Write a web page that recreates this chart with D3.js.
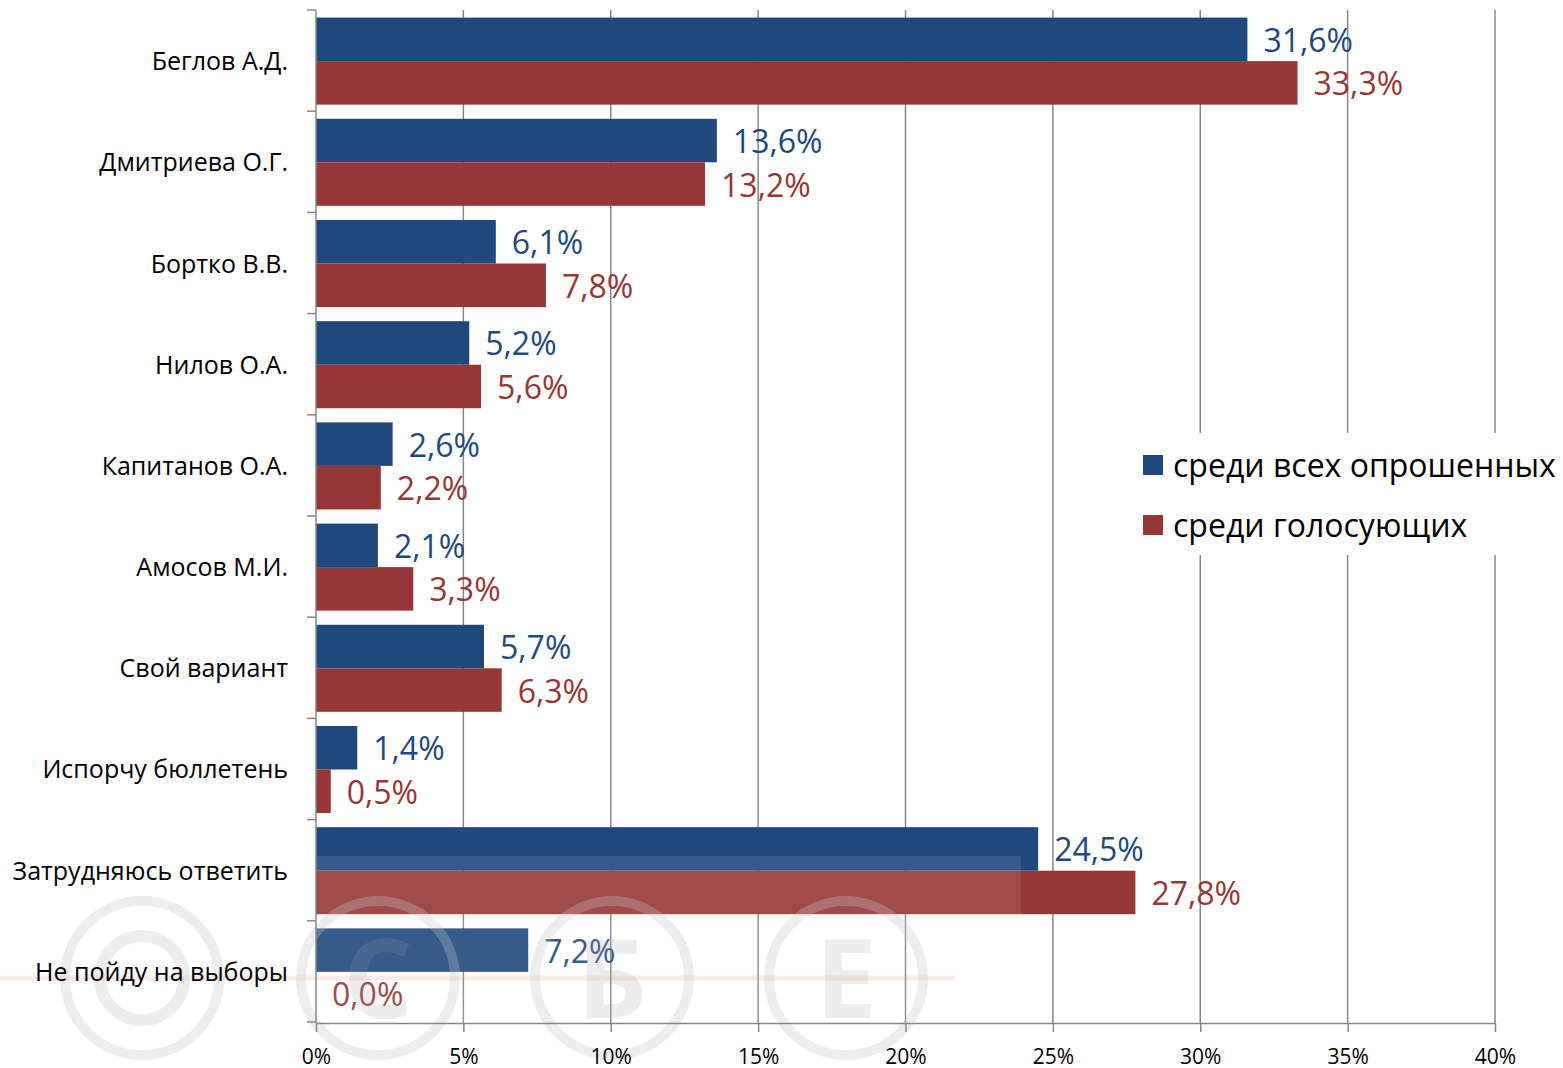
<!DOCTYPE html>
<html>
<head>
<meta charset="utf-8">
<script src="https://cdn.jsdelivr.net/npm/d3@7"></script>
<style>
  body { margin: 0; background: #fff; }
  text { font-family: "Open Sans", "Noto Sans", sans-serif; }
</style>
</head>
<body>
<div id="chart"></div>
<script>
var svgWidth = 1563;
var svgHeight = 1068;

// data
var categories = ["Беглов А.Д.", "Дмитриева О.Г.", "Бортко В.В.", "Нилов О.А.", "Капитанов О.А.",
  "Амосов М.И.", "Свой вариант", "Испорчу бюллетень", "Затрудняюсь ответить", "Не пойду на выборы"];
var seriesNames = ["среди всех опрошенных", "среди голосующих"];
var allRespondents = [31.6, 13.6, 6.1, 5.2, 2.6, 2.1, 5.7, 1.4, 24.5, 7.2];
var voters = [33.3, 13.2, 7.8, 5.6, 2.2, 3.3, 6.3, 0.5, 27.8, 0.0];
var xTicks = [0, 5, 10, 15, 20, 25, 30, 35, 40];
var colors = ["#1f497d", "#953735"];

var plot = { left: 316, right: 1495, top: 10, bottom: 1023 };

var rows = categories.map(function(c, i) {
  return { name: c, values: [allRespondents[i], voters[i]] };
});

var svg = d3.select("#chart")
  .append("svg")
  .attr("width", svgWidth)
  .attr("height", svgHeight);

var x = d3.scaleLinear()
  .domain([0, 40])
  .range([plot.left, plot.right]);

var y = d3.scaleBand()
  .domain(categories)
  .range([plot.top, plot.bottom])
  .paddingInner(0.14)
  .paddingOuter(0.075);

var ySub = d3.scaleBand()
  .domain([0, 1])
  .range([0, y.bandwidth()]);

// vertical gridlines
svg.append("g")
  .selectAll("line")
  .data(xTicks.slice(1))
  .enter()
  .append("line")
  .attr("x1", d => x(d))
  .attr("x2", d => x(d))
  .attr("y1", plot.top)
  .attr("y2", plot.bottom)
  .attr("stroke", "#878787")
  .attr("stroke-width", 1.5);

// bars
var groups = svg.selectAll(".cat")
  .data(rows)
  .enter()
  .append("g")
  .attr("class", "cat")
  .attr("transform", d => `translate(0, ${y(d.name)})`);

groups.selectAll("rect")
  .data(d => d.values)
  .enter()
  .append("rect")
  .attr("x", x(0))
  .attr("y", (d, i) => ySub(i))
  .attr("width", d => x(d) - x(0))
  .attr("height", ySub.bandwidth())
  .attr("fill", (d, i) => colors[i]);

// faint watermark over the bars
var wm = svg.append("g").attr("pointer-events", "none");
wm.append("rect")
  .attr("x", 0).attr("y", 856)
  .attr("width", 1021).attr("height", 212)
  .attr("fill", "#fff").attr("opacity", 0.1);
wm.append("line")
  .attr("x1", 0).attr("x2", 955)
  .attr("y1", 978).attr("y2", 978)
  .attr("stroke", "#f08080").attr("stroke-width", 5).attr("opacity", 0.15);
var marks = [{ cx: 142, t: "" }, { cx: 378, t: "C" }, { cx: 612, t: "Б" }, { cx: 846, t: "E" }];
var wmg = wm.selectAll(".wm")
  .data(marks)
  .enter()
  .append("g")
  .attr("transform", d => `translate(${d.cx}, 978)`);
wmg.append("circle")
  .attr("r", 77)
  .attr("fill", "none")
  .attr("stroke", "#c8c8c8").attr("stroke-width", 10).attr("opacity", 0.3);
wmg.append("text")
  .attr("text-anchor", "middle")
  .attr("dy", "0.36em")
  .style("font-size", "110px")
  .style("font-weight", "bold")
  .attr("fill", "#a0a0a0").attr("opacity", 0.18)
  .text(d => d.t);
wm.append("circle")
  .attr("cx", 142).attr("cy", 978).attr("r", 42)
  .attr("fill", "none")
  .attr("stroke", "#c8c8c8").attr("stroke-width", 12).attr("opacity", 0.3);

var fmt = d3.format(".1f");
groups.selectAll(".val")
  .data(d => d.values)
  .enter()
  .append("text")
  .attr("class", "val")
  .attr("x", d => x(d) + 16)
  .attr("y", (d, i) => ySub(i) + ySub.bandwidth() / 2 + 1)
  .attr("dy", "0.36em")
  .style("font-size", "32px")
  .attr("fill", (d, i) => colors[i])
  .text(d => fmt(d).replace(".", ",") + "%");

// category labels
svg.append("g")
  .selectAll("text")
  .data(categories)
  .enter()
  .append("text")
  .attr("x", 288)
  .attr("y", d => y(d) + y.bandwidth() / 2)
  .attr("dy", "0.36em")
  .attr("text-anchor", "end")
  .style("font-size", "25px")
  .attr("fill", "#000")
  .text(d => d);

// left axis with ticks at band boundaries
var leftAxis = svg.append("g").attr("stroke", "#878787").attr("stroke-width", 1.5);
leftAxis.append("line")
  .attr("x1", plot.left).attr("x2", plot.left)
  .attr("y1", plot.top).attr("y2", plot.bottom);
leftAxis.selectAll(".bt")
  .data(d3.range(categories.length + 1))
  .enter()
  .append("line")
  .attr("class", "bt")
  .attr("x1", plot.left - 9)
  .attr("x2", plot.left)
  .attr("y1", i => plot.top + i * y.step())
  .attr("y2", i => plot.top + i * y.step());

// bottom axis
var bottomAxis = d3.axisBottom(x)
  .tickValues(xTicks)
  .tickSize(9)
  .tickSizeOuter(0)
  .tickPadding(17)
  .tickFormat(d => d + "%");

var xAxis = svg.append("g")
  .attr("transform", `translate(0, ${plot.bottom})`)
  .call(bottomAxis);
xAxis.select(".domain").attr("stroke", "#878787").attr("stroke-width", 1.5);
xAxis.selectAll(".tick line").attr("stroke", "#878787").attr("stroke-width", 1.5);
xAxis.selectAll(".tick text")
  .style("font-size", "21px")
  .style("font-family", "'Open Sans', sans-serif")
  .attr("fill", "#000");

// legend
var legend = svg.append("g");
legend.append("rect")
  .attr("x", 1130).attr("y", 433)
  .attr("width", 433).attr("height", 122)
  .attr("fill", "#fff");
var items = legend.selectAll(".item")
  .data(seriesNames)
  .enter()
  .append("g")
  .attr("class", "item")
  .attr("transform", (d, i) => `translate(1143, ${455 + i * 60})`);
items.append("rect")
  .attr("width", 20).attr("height", 20)
  .attr("fill", (d, i) => colors[i]);
items.append("text")
  .attr("x", 30)
  .attr("y", 10)
  .attr("dy", "0.36em")
  .style("font-size", "32px")
  .attr("fill", "#000")
  .text(d => d);
</script>
</body>
</html>
